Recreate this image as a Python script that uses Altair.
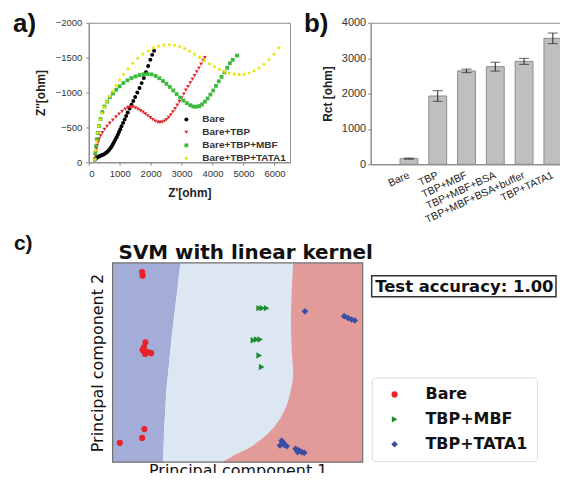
import altair as alt
import pandas as pd

# ---------------- Panel a: Nyquist plots ----------------
series_names = ["Bare", "Bare+TBP", "Bare+TBP+MBF", "Bare+TBP+TATA1"]

bare_zre = [200, 230, 260, 300, 340, 380, 420, 460, 500, 540, 580, 620, 660, 700, 740, 780, 820, 860, 900, 940,
            980, 1020, 1060, 1110, 1160, 1210, 1260, 1320, 1380, 1440, 1500, 1570, 1640, 1710, 1780, 1850, 1920,
            1990, 2050, 2110]
bare_zim = [-40, -55, -65, -75, -85, -93, -100, -108, -117, -128, -142, -158, -178, -202, -228, -258, -290, -323,
            -358, -395, -435, -475, -515, -565, -615, -665, -715, -770, -825, -880, -935, -1000, -1065, -1135,
            -1210, -1290, -1380, -1470, -1540, -1600]

tbp_zre = [200, 215, 230, 250, 275, 305, 340, 385, 440, 510, 590, 680, 780, 880, 980, 1080, 1180, 1270, 1350,
           1430, 1510, 1590, 1670, 1750, 1830, 1910, 1990, 2070, 2150, 2230, 2300, 2370, 2440, 2510, 2580, 2650,
           2720, 2790, 2860, 2930, 3000, 3070, 3140, 3210, 3280, 3350, 3420, 3490, 3560, 3630, 3700, 3750]
tbp_zim = [-40, -90, -140, -190, -240, -290, -335, -380, -425, -470, -515, -560, -605, -650, -690, -728, -760,
           -785, -795, -790, -778, -760, -740, -718, -693, -666, -638, -612, -590, -574, -570, -575, -590, -612,
           -642, -680, -722, -768, -818, -870, -924, -978, -1032, -1085, -1138, -1190, -1242, -1296, -1350, -1405,
           -1460, -1500]

mbf_zre = [200, 215, 235, 260, 290, 330, 380, 440, 510, 590, 680, 780, 890, 1000, 1120, 1250, 1380, 1510, 1640,
           1770, 1900, 2030, 2160, 2280, 2400, 2510, 2620, 2730, 2840, 2950, 3060, 3170, 3280, 3380, 3480, 3570,
           3660, 3750, 3840, 3930, 4020, 4110, 4200, 4290, 4380, 4470, 4560, 4650, 4790]
mbf_zim = [-40, -130, -230, -330, -420, -520, -620, -720, -800, -870, -930, -985, -1040, -1090, -1135, -1175,
           -1208, -1232, -1250, -1262, -1265, -1260, -1238, -1205, -1165, -1125, -1080, -1030, -978, -928, -885,
           -848, -818, -800, -796, -806, -830, -868, -915, -970, -1030, -1095, -1160, -1225, -1290, -1355, -1420,
           -1470, -1530]

tata_zre = [200, 220, 245, 280, 320, 370, 430, 500, 580, 670, 770, 880, 1000, 1130, 1270, 1420, 1580, 1750, 1920,
            2090, 2260, 2430, 2600, 2770, 2940, 3100, 3260, 3420, 3580, 3740, 3900, 4060, 4220, 4380, 4540, 4700,
            4860, 5020, 5180, 5340, 5500, 5660, 5820, 5980, 6140]
tata_zim = [-40, -170, -300, -420, -520, -610, -700, -790, -870, -945, -1020, -1100, -1180, -1260, -1340, -1420,
            -1490, -1550, -1600, -1640, -1665, -1680, -1685, -1678, -1660, -1630, -1592, -1550, -1505, -1458, -1412,
            -1370, -1333, -1300, -1278, -1264, -1258, -1262, -1280, -1310, -1350, -1405, -1470, -1550, -1640]

a_x_ticks = [0, 1000, 2000, 3000, 4000, 5000, 6000]
a_y_ticks = [-2000, -1500, -1000, -500, 0]

# ---------------- Panel b: Rct bars ----------------
b_labels = ["Bare", "TBP", "TBP+MBF", "TBP+MBF+BSA", "TBP+MBF+BSA+buffer", "TBP+TATA1"]
b_rct = [160, 1930, 2640, 2760, 2910, 3560]
b_err = [15, 150, 50, 125, 85, 150]
b_y_ticks = [0, 1000, 2000, 3000, 4000]

# ---------------- Panel c: SVM decision regions ----------------
c_bound_pc2 = [1.0, 0.856, 0.691, 0.527, 0.445, 0.363, 0.264, 0.182, 0.116, 0.070, 0.037, 0.0]
c_bound_left = [0.271, 0.258, 0.242, 0.228, 0.222, 0.215, 0.211, 0.207, 0.205, 0.204, 0.203, 0.202]
c_bound_right = [0.722, 0.716, 0.713, 0.718, 0.722, 0.713, 0.689, 0.649, 0.596, 0.543, 0.490, 0.438]

c_classes = ["Bare", "TBP+MBF", "TBP+TATA1"]
c_bare_pc1 = [0.118, 0.120, 0.131, 0.125, 0.120, 0.130, 0.141, 0.154, 0.125, 0.127, 0.118, 0.029]
c_bare_pc2 = [0.954, 0.936, 0.601, 0.576, 0.563, 0.543, 0.552, 0.547, 0.557, 0.166, 0.122, 0.097]
c_mbf_pc1 = [0.586, 0.599, 0.616, 0.563, 0.576, 0.590, 0.586, 0.596]
c_mbf_pc2 = [0.773, 0.773, 0.773, 0.612, 0.616, 0.616, 0.535, 0.478]
c_tata_pc1 = [0.769, 0.926, 0.941, 0.955, 0.968, 0.676, 0.669, 0.686, 0.696, 0.683, 0.732, 0.745, 0.756,
              0.766, 0.740]
c_tata_pc2 = [0.757, 0.733, 0.724, 0.716, 0.711, 0.108, 0.084, 0.087, 0.080, 0.097, 0.067, 0.059, 0.051,
              0.048, 0.051]
c_title_text = "SVM with linear kernel"
c_accuracy_text = "Test accuracy: 1.00"

FA = "Liberation Sans"
FC = "DejaVu Sans"
ONE = alt.Data(values=[{}])

# ---------- build panel a ----------
rows = []
for name, xs, ys in zip(series_names, [bare_zre, tbp_zre, mbf_zre, tata_zre],
                        [bare_zim, tbp_zim, mbf_zim, tata_zim]):
    for xv, yv in zip(xs, ys):
        rows.append({"series": name, "zre": xv, "zim": yv})
df_a = pd.DataFrame(rows)

leg_a = alt.Legend(title=None, orient="none", legendX=93, legendY=92, labelFont=FA, labelFontSize=10,
                   labelFontWeight="bold", labelColor="#333333", symbolSize=45, rowPadding=3,
                   labelOffset=11, padding=0, symbolStrokeWidth=0)
pts_a = alt.Chart(df_a).mark_point(filled=True, opacity=1).encode(
    x=alt.X("zre:Q", scale=alt.Scale(domain=[0, 6500], nice=False, zero=False),
            axis=alt.Axis(values=a_x_ticks, format="d", title="Z'[ohm]", grid=False, labelFont=FA,
                          labelFontSize=9.5, labelColor="#333333", tickSize=3, tickColor="#888888",
                          domainColor="#888888", labelPadding=3, titleFont=FA, titleFontSize=12,
                          titleFontWeight="bold", titleColor="#222222", titlePadding=10)),
    y=alt.Y("zim:Q", scale=alt.Scale(domain=[-2000, 0], reverse=True, nice=False, zero=False),
            axis=alt.Axis(values=a_y_ticks, format="d", title="Z''[ohm]", grid=False, labelFont=FA,
                          labelFontSize=9.5, labelColor="#333333", tickSize=3, tickColor="#888888",
                          domainColor="#888888", labelPadding=4, titleFont=FA, titleFontSize=12,
                          titleFontWeight="bold", titleColor="#222222", titlePadding=8)),
    color=alt.Color("series:N", scale=alt.Scale(domain=series_names,
                                                 range=["#000000", "#e0282c", "#3dba3d", "#e8e800"]),
                    legend=leg_a),
    shape=alt.Shape("series:N", scale=alt.Scale(domain=series_names,
                                                 range=["circle", "triangle-down", "square", "diamond"]),
                    legend=leg_a),
    size=alt.Size("series:N", scale=alt.Scale(domain=series_names, range=[16, 14, 22, 30]), legend=None),
)
lab_a = alt.Chart(ONE).mark_text(text="a)", font=FA, fontSize=26, fontWeight="bold", align="left",
                                 baseline="alphabetic", color="#111111").encode(
    x=alt.value(-76), y=alt.value(9))
panel_a = alt.layer(pts_a, lab_a).properties(width=202, height=140,
                                              view=alt.ViewBackground(stroke="#8c8c8c"))

# ---------- build panel b ----------
df_b = pd.DataFrame({"cond": b_labels, "rct": b_rct, "err": b_err})
xb = alt.X("cond:N", sort=b_labels,
           scale=alt.Scale(paddingInner=0.38, paddingOuter=0.6, align=0.85),
           axis=alt.Axis(title=None, labelAngle=-25, labelAlign="right", labelBaseline="middle",
                         labelFont=FA, labelFontSize=10.5, labelColor="#222222", ticks=False,
                         labelPadding=10, domainColor="#888888"))
yaxis_b = alt.Axis(values=b_y_ticks, format="d", title="Rct [ohm]", grid=False, labelFont=FA, labelFontSize=11,
                   labelColor="#333333", tickSize=3, tickColor="#888888", domainColor="#888888",
                   labelPadding=2, titleFont=FA, titleFontSize=12, titleFontWeight="bold",
                   titleColor="#222222", titlePadding=7)
yb = alt.Scale(domain=[0, 4000], nice=False)
base_b = alt.Chart(df_b)
bars = base_b.mark_bar(color="#bfbfbf", stroke="#8c8c8c", strokeWidth=1).encode(
    x=xb, y=alt.Y("rct:Q", scale=yb, axis=yaxis_b))
errs = base_b.transform_calculate(lo="datum.rct - datum.err", hi="datum.rct + datum.err")
rule_b = errs.mark_rule(color="#222222", strokeWidth=1).encode(
    x=xb, y=alt.Y("lo:Q", scale=yb, axis=yaxis_b), y2="hi:Q")
cap_lo = errs.mark_tick(color="#222222", size=10, thickness=1).encode(
    x=xb, y=alt.Y("lo:Q", scale=yb, axis=yaxis_b))
cap_hi = errs.mark_tick(color="#222222", size=10, thickness=1).encode(
    x=xb, y=alt.Y("hi:Q", scale=yb, axis=yaxis_b))
lab_b = alt.Chart(ONE).mark_text(text="b)", font=FA, fontSize=26, fontWeight="bold", align="left",
                                 baseline="alphabetic", color="#111111").encode(
    x=alt.value(-67), y=alt.value(9))
panel_b = alt.layer(bars, rule_b, cap_lo, cap_hi, lab_b).properties(
    width=197, height=142, view=alt.ViewBackground(stroke="#8c8c8c"))

# ---------- build panel c ----------
# the panel's origin is shared with panel a; the data rectangle starts 24px to the right
df_bound = pd.DataFrame({"pc2": c_bound_pc2, "left": c_bound_left, "right": c_bound_right})
xs_c = alt.Scale(domain=[0, 1], nice=False, zero=False, range=[24, 275])
ys_c = alt.Scale(domain=[0, 1], nice=False, zero=False)
xaxis_c = alt.Axis(title="Principal component 1", labels=False, ticks=False, domain=False, grid=False,
                   titleFont=FC, titleFontSize=16, titleFontWeight="normal", titleColor="#111111",
                   titlePadding=0)
yaxis_c = alt.Axis(title="Principal component 2", labels=False, ticks=False, domain=False, grid=False,
                   titleFont=FC, titleFontSize=16, titleFontWeight="normal", titleColor="#111111",
                   titlePadding=7, offset=-24)
bound_base = alt.Chart(df_bound).transform_calculate(lo="0", hi="1")
blue = bound_base.mark_area(orient="horizontal", color="#a4acd8", interpolate="monotone", opacity=1).encode(
    y=alt.Y("pc2:Q", scale=ys_c, axis=yaxis_c),
    x=alt.X("lo:Q", scale=xs_c, axis=xaxis_c), x2="left:Q")
light = bound_base.mark_area(orient="horizontal", color="#dde7f3", interpolate="monotone", opacity=1).encode(
    y=alt.Y("pc2:Q", scale=ys_c, axis=yaxis_c),
    x=alt.X("left:Q", scale=xs_c, axis=xaxis_c), x2="hi:Q")
redreg = bound_base.mark_area(orient="horizontal", color="#e39b99", interpolate="monotone", opacity=1).encode(
    y=alt.Y("pc2:Q", scale=ys_c, axis=yaxis_c),
    x=alt.X("right:Q", scale=xs_c, axis=xaxis_c), x2="hi:Q")
frame_c = alt.Chart(ONE).mark_rect(fill=None, stroke="#6f6f6f", strokeWidth=1.2).encode(
    x=alt.X(datum=0, scale=xs_c, axis=xaxis_c), x2=alt.X2(datum=1),
    y=alt.Y(datum=0, scale=ys_c, axis=yaxis_c), y2=alt.Y2(datum=1))

prow = []
for cls, px, py in zip(c_classes, [c_bare_pc1, c_mbf_pc1, c_tata_pc1], [c_bare_pc2, c_mbf_pc2, c_tata_pc2]):
    for a1, a2 in zip(px, py):
        prow.append({"cls": cls, "pc1": a1, "pc2": a2})
df_c = pd.DataFrame(prow)
leg_c = alt.Legend(title=None, orient="none", legendX=284, legendY=115, labelFont=FC, labelFontSize=16,
                   labelFontWeight="bold", labelColor="#111111", symbolSize=40, rowPadding=9,
                   padding=9, strokeColor="#d9d9d9", fillColor="#ffffff", cornerRadius=4,
                   symbolOffset=6, labelOffset=23, symbolStrokeWidth=0)
pts_c = alt.Chart(df_c).mark_point(filled=True, opacity=1).encode(
    x=alt.X("pc1:Q", scale=xs_c, axis=xaxis_c),
    y=alt.Y("pc2:Q", scale=ys_c, axis=yaxis_c),
    color=alt.Color("cls:N", scale=alt.Scale(domain=c_classes, range=["#e8212b", "#1e8a2f", "#3a4ea6"]),
                    legend=leg_c),
    shape=alt.Shape("cls:N", scale=alt.Scale(domain=c_classes, range=["circle", "triangle-right", "diamond"]),
                    legend=leg_c),
    size=alt.Size("cls:N", scale=alt.Scale(domain=c_classes, range=[38, 45, 55]), legend=None),
)
acc_box = alt.Chart(ONE).mark_rect(fill="#ffffff", stroke="#333333", strokeWidth=1.5).encode(
    x=alt.value(284), x2=alt.value(469), y=alt.value(13), y2=alt.value(34))
acc_txt = alt.Chart(ONE).mark_text(text=c_accuracy_text, font=FC, fontSize=16.5, fontWeight="bold",
                                   align="center", baseline="middle", color="#111111").encode(
    x=alt.value(377), y=alt.value(24))
title_c = alt.Chart(ONE).mark_text(text=c_title_text, font=FC, fontSize=20, fontWeight="bold",
                                   align="left", baseline="alphabetic", color="#111111").encode(
    x=alt.value(30), y=alt.value(-4))
lab_c = alt.Chart(ONE).mark_text(text="c)", font=FA, fontSize=21, fontWeight="bold", align="left",
                                 baseline="alphabetic", color="#111111").encode(
    x=alt.value(-75), y=alt.value(-13))
panel_c = alt.layer(blue, light, redreg, frame_c, pts_c, acc_box, acc_txt, title_c, lab_c).properties(
    width=275, height=200, view=alt.ViewBackground(stroke=None))

top_row = alt.hconcat(panel_a, panel_b, spacing=12).resolve_scale(
    color="independent", shape="independent", size="independent").resolve_legend(
    color="independent", shape="independent")
chart = alt.vconcat(top_row, panel_c, spacing=7).resolve_scale(
    color="independent", shape="independent", size="independent").resolve_legend(
    color="independent", shape="independent").properties(
    padding={"left": 4, "top": 1, "right": -8, "bottom": -6}
).configure(background="#ffffff")

chart.save("out.html", embed_options={"renderer": "svg", "actions": False})
